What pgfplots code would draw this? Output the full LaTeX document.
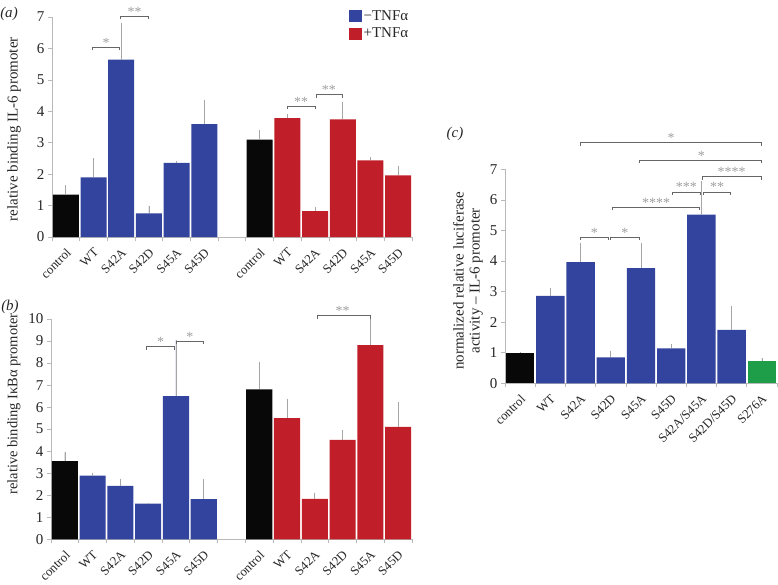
\documentclass[border=0pt]{standalone}
\usepackage{fontspec}
\setmainfont{Liberation Serif}
\usepackage{pgfplots}
\pgfplotsset{compat=1.18}
\definecolor{cblue}{RGB}{50,68,158}
\definecolor{cred}{RGB}{192,30,40}
\definecolor{cgreen}{RGB}{30,158,72}
\definecolor{cblack}{RGB}{8,8,8}
\tikzset{
  brk/.style={draw=black!60, line width=0.8pt},
  star/.style={font=\fontsize{14}{14}\selectfont, text=gray!75, anchor=base, inner sep=0pt},
}
\pgfplotsset{
  panel/.style={
    scale only axis,
    axis x line*=bottom, axis y line*=left,
    axis line style={draw=gray!55, line width=0.7pt, -},
    tick align=outside,
    major tick length=4pt,
    tick style={draw=gray!55, line width=0.7pt},
    ymin=0, xmin=-0.5,
    clip=false,
    /pgf/number format/assume math mode=true,
    yticklabel style={font=\fontsize{15}{15}\selectfont, text=black!85},
    xticklabels={},
    extra x tick style={major tick length=0pt, tick style={draw=none}},
    xticklabel style={rotate=45, anchor=north east, inner sep=1pt, xshift=-6.5pt, yshift=-6pt, font=\fontsize{12.8}{12.8}\selectfont, text=black!85},
  },
  bars/.style={ybar, bar width=0.94, bar shift=0pt, draw=none, fill=#1,
    error bars/y dir=plus, error bars/y explicit, error bars/error mark=none,
    error bars/error bar style={draw=gray!70, line width=0.7pt}},
}
\newcommand\brk[5]{%
  \draw[brk] (axis cs:#1,#3) ++(0pt,-3pt) -- ++(0pt,3pt) -- (axis cs:#2,#3) -- ++(0pt,-3pt);
  \node[star] at (axis cs:#4,#3) {#5};}
\begin{document}
\begin{tikzpicture}
\path[use as bounding box] (0,0) rectangle (778pt,-584pt);
% ---------------- (a)
\begin{axis}[panel, at={(52pt,-237pt)}, anchor=south west,
  width=360pt, height=220pt, xmax=12.5, ymax=7, ytick={0,...,7},
  xtick={-0.5,0.5,...,12.5},
  extra x ticks={0,1,2,3,4,5,7,8,9,10,11,12},
  extra x tick labels={control,WT,S42A,S42D,S45A,S45D,control,WT,S42A,S42D,S45A,S45D},
  ylabel={relative binding IL-6 promoter},
  every axis y label/.style={at={(axis description cs:-0.1056,0.49)}, rotate=90, anchor=center, font=\fontsize{15}{17}\selectfont, text=black!85},
  legend style={at={(axis description cs:0.825,1.04)}, anchor=north west, draw=none, fill=none, inner sep=0pt, row sep=2pt, font=\fontsize{15}{15}\selectfont, text=black!85, cells={anchor=west}},
]
\addplot[forget plot, bars=cblack] coordinates {(0,1.35) +- (0,0.30) (7,3.10) +- (0,0.30)};
\addplot[forget plot, bars=cblue] coordinates {(1,1.90) +- (0,0.60) (2,5.64) +- (0,1.17) (3,0.75) +- (0,0.25) (4,2.36) +- (0,0.05) (5,3.59) +- (0,0.78)};
\addplot[forget plot, bars=cred] coordinates {(8,3.78) +- (0,0.12) (9,0.82) +- (0,0.13) (10,3.74) +- (0,0.54) (11,2.44) +- (0,0.09) (12,1.96) +- (0,0.30)};
\addlegendimage{legend image code/.code={\fill[cblue] (0pt,-5.5pt) rectangle (12pt,5.5pt);}}
\addlegendentry{−TNFα}
\addlegendimage{legend image code/.code={\fill[cred] (0pt,-5.5pt) rectangle (12pt,5.5pt);}}
\addlegendentry{+TNFα}
\brk{0.96}{1.93}{6.04}{1.45}{*}
\brk{1.98}{2.98}{7.02}{2.48}{**}
\brk{8.01}{9.0}{4.16}{8.5}{**}
\brk{9.03}{9.97}{4.53}{9.5}{**}
\end{axis}
% ---------------- (b)
\begin{axis}[panel, at={(51pt,-539.3pt)}, anchor=south west,
  width=361pt, height=220.3pt, xmax=12.5, ymax=10, ytick={0,...,10},
  xtick={-0.5,0.5,...,12.5},
  extra x ticks={0,1,2,3,4,5,7,8,9,10,11,12},
  extra x tick labels={control,WT,S42A,S42D,S45A,S45D,control,WT,S42A,S42D,S45A,S45D},
  ylabel={relative binding IκBα promoter},
  every axis y label/.style={at={(axis description cs:-0.1025,0.615)}, rotate=90, anchor=center, font=\fontsize{14.5}{17}\selectfont, text=black!85},
]
\addplot[bars=cblack] coordinates {(0,3.55) +- (0,0.40) (7,6.81) +- (0,1.24)};
\addplot[bars=cblue] coordinates {(1,2.89) +- (0,0.13) (2,2.43) +- (0,0.32) (3,1.62) +- (0,0.03) (4,6.50) +- (0,2.55) (5,1.82) +- (0,0.92)};
\addplot[bars=cred] coordinates {(8,5.50) +- (0,0.87) (9,1.83) +- (0,0.29) (10,4.51) +- (0,0.44) (11,8.82) +- (0,1.18) (12,5.10) +- (0,1.12)};
\brk{2.95}{3.95}{8.74}{3.45}{*}
\brk{4.02}{5.0}{9.0}{4.5}{*}
\brk{9.1}{11.0}{10.15}{10.0}{**}
\end{axis}
% ---------------- (c)
\begin{axis}[panel, at={(505pt,-383.3pt)}, anchor=south west,
  width=272pt, height=214pt, xmax=8.5, ymax=7, ytick={0,...,7},
  xtick={-0.5,0.5,...,8.5},
  extra x ticks={0,1,2,3,4,5,6,7,8},
  extra x tick labels={control,WT,S42A,S42D,S45A,S45D,S42A/S45A,S42D/S45D,S276A},
  ylabel={normalized relative luciferase\\activity – IL-6 promoter},
  every axis y label/.style={at={(axis description cs:-0.136,0.479)}, rotate=90, anchor=center, align=center, font=\fontsize{15}{16}\selectfont, text=black!85},
]
\addplot[bars=cblack] coordinates {(0,0.98) +- (0,0.03)};
\addplot[bars=cblue] coordinates {(1,2.86) +- (0,0.25) (2,3.96) +- (0,0.63) (3,0.85) +- (0,0.22) (4,3.77) +- (0,0.82) (5,1.14) +- (0,0.15) (6,5.52) +- (0,1.10) (7,1.75) +- (0,0.78)};
\addplot[bars=cgreen] coordinates {(8,0.73) +- (0,0.10)};
\brk{2.0}{8.0}{7.87}{5.0}{*}
\brk{3.95}{8.0}{7.30}{6.0}{*}
\brk{6.03}{8.0}{6.76}{7.0}{****}
\brk{5.04}{5.96}{6.26}{5.5}{***}
\brk{6.07}{6.97}{6.26}{6.52}{**}
\brk{3.04}{5.93}{5.76}{4.5}{****}
\brk{2.01}{2.92}{4.78}{2.46}{*}
\brk{3.0}{3.94}{4.78}{3.47}{*}
\end{axis}
\node[font=\fontsize{15}{15}\selectfont\itshape, text=black!85] at (9pt,-14pt) {(a)};
\node[font=\fontsize{15}{15}\selectfont\itshape, text=black!85] at (10pt,-307pt) {(b)};
\node[font=\fontsize{15}{15}\selectfont\itshape, text=black!85] at (455pt,-134pt) {(c)};
\end{tikzpicture}
\end{document}
